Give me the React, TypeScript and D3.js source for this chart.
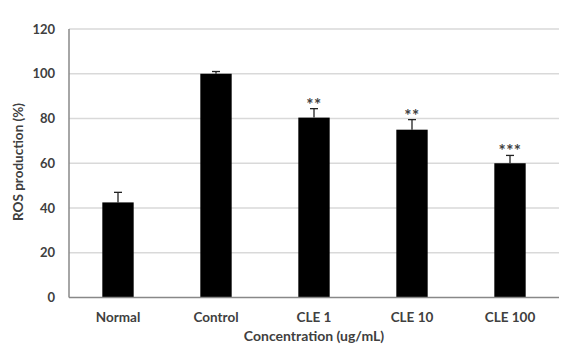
import React from 'react';
import * as d3 from 'd3';

const groups = ['Normal', 'Control', 'CLE 1', 'CLE 10', 'CLE 100'];
const rosValues = [42.5, 100, 80.4, 75, 60];
const rosErrors = [4.5, 1, 4, 4.5, 3.5];
const significance = ['', '', '**', '**', '***'];
const yTicks = [0, 20, 40, 60, 80, 100, 120];

const width = 565;
const height = 353;
const margin = { top: 29, right: 6, bottom: 55.5, left: 69 };

const font = 'Lato, "Open Sans", sans-serif';
const textColor = '#404040';

export default function App() {
    const x = d3
        .scaleBand<string>()
        .domain(groups)
        .range([margin.left, width - margin.right])
        .paddingInner(0.68)
        .paddingOuter(0.34);

    const y = d3
        .scaleLinear()
        .domain([0, 120])
        .range([height - margin.bottom, margin.top]);

    const bw = x.bandwidth();

    return (
        <svg
            width={width}
            height={height}
            style={{ position: 'absolute', left: 0, top: 0, background: '#fff' }}
        >
            {/* gridlines */}
            {yTicks.slice(1).map((t) => (
                <line
                    key={'g' + t}
                    x1={margin.left}
                    x2={width - margin.right}
                    y1={y(t)}
                    y2={y(t)}
                    stroke="#d9d9d9"
                    strokeWidth={1.5}
                />
            ))}

            {/* y tick labels */}
            {yTicks.map((t) => (
                <text
                    key={'t' + t}
                    x={55}
                    y={y(t)}
                    dy="0.35em"
                    textAnchor="end"
                    fontFamily={font}
                    fontWeight="bold"
                    fontSize={13}
                    fill={textColor}
                >
                    {t}
                </text>
            ))}

            {/* bars */}
            {groups.map((g, i) => (
                <rect
                    key={'b' + g}
                    x={x(g)}
                    y={y(rosValues[i])}
                    width={bw}
                    height={y(0) - y(rosValues[i])}
                    fill="#000"
                />
            ))}

            {/* upper error bars */}
            {groups.map((g, i) => {
                const cx = (x(g) as number) + bw / 2;
                const top = y(rosValues[i] + rosErrors[i]);
                return (
                    <g key={'e' + g} stroke="#222" strokeWidth={1.3}>
                        <line x1={cx} x2={cx} y1={y(rosValues[i])} y2={top} />
                        <line x1={cx - 4} x2={cx + 4} y1={top} y2={top} />
                    </g>
                );
            })}

            {/* significance marks */}
            {groups.map((g, i) =>
                significance[i] ? (
                    <text
                        key={'s' + g}
                        x={(x(g) as number) + bw / 2}
                        y={y(rosValues[i] + rosErrors[i]) + 2}
                        textAnchor="middle"
                        fontFamily={font}
                        fontWeight="bold"
                        fontSize={17}
                        letterSpacing={0.5}
                        fill={textColor}
                    >
                        {significance[i]}
                    </text>
                ) : null
            )}

            {/* axes lines */}
            <line
                x1={margin.left}
                x2={margin.left}
                y1={margin.top}
                y2={y(0)}
                stroke="#888"
                strokeWidth={1.5}
            />
            <line
                x1={margin.left}
                x2={width - margin.right}
                y1={y(0)}
                y2={y(0)}
                stroke="#888"
                strokeWidth={1.5}
            />

            {/* category labels */}
            {groups.map((g) => (
                <text
                    key={'c' + g}
                    x={(x(g) as number) + bw / 2}
                    y={321.5}
                    textAnchor="middle"
                    fontFamily={font}
                    fontWeight="bold"
                    fontSize={13.5}
                    fill={textColor}
                >
                    {g}
                </text>
            ))}

            <text
                x={(margin.left + width - margin.right) / 2}
                y={341}
                textAnchor="middle"
                fontFamily={font}
                fontWeight="bold"
                fontSize={14}
                fill={textColor}
            >
                Concentration (ug/mL)
            </text>

            <text
                transform={`translate(23, ${162}) rotate(-90)`}
                textAnchor="middle"
                fontFamily={font}
                fontWeight="bold"
                fontSize={13.5}
                fill={textColor}
            >
                ROS production (%)
            </text>
        </svg>
    );
}
